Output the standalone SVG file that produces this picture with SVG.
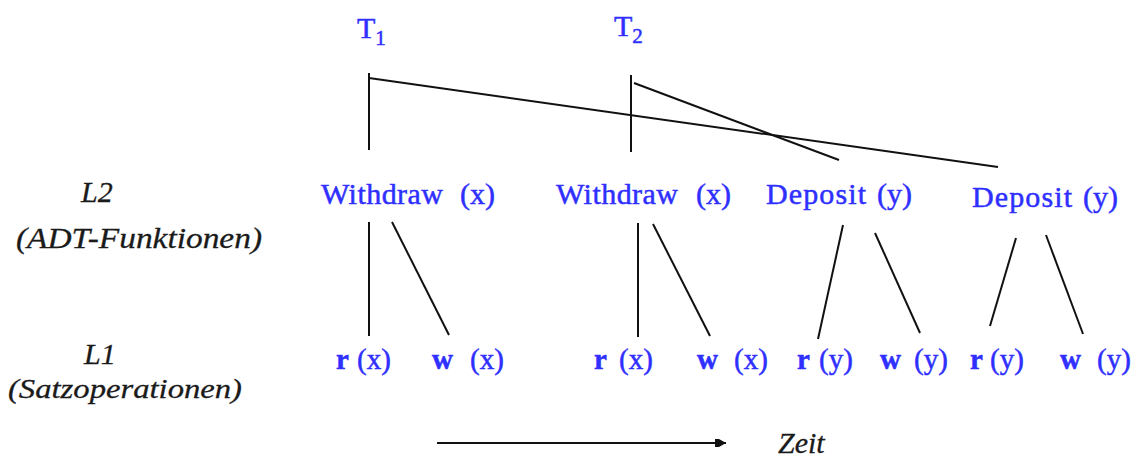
<svg xmlns="http://www.w3.org/2000/svg" width="1134" height="458" viewBox="0 0 1134 458">
<style>
.t{font-family:"Liberation Serif","Times New Roman",serif;fill:#2f2fff;stroke:#2f2fff;stroke-width:0.5;}
.big{font-size:30px;}
.sub{font-size:21px;}
.op{font-size:29px;}
.b{font-weight:bold;}
.lab{font-family:"Liberation Serif","Times New Roman",serif;font-style:italic;fill:#1a1a1a;stroke:#1a1a1a;stroke-width:0.3;font-size:30px;}
.sm{font-size:28px;}
.ln{stroke:#111;stroke-width:2;fill:none;}
</style>
<defs>
<marker id="ah" markerWidth="12" markerHeight="10" refX="11" refY="5" orient="auto" markerUnits="userSpaceOnUse">
<path d="M0,1 L4,1 L11,5 L4,9 L0,9 Z" fill="#111"/>
</marker>
</defs>
<rect width="1134" height="458" fill="#fff"/>
<g id="connectors">
<line class="ln" x1="369" y1="73" x2="369" y2="150"/>
<line class="ln" x1="369" y1="78" x2="998" y2="167"/>
<line class="ln" x1="631" y1="75" x2="631" y2="152"/>
<line class="ln" x1="634" y1="83" x2="839" y2="160"/>
<line class="ln" x1="369" y1="222" x2="369" y2="336"/>
<line class="ln" x1="392" y1="222" x2="449" y2="335"/>
<line class="ln" x1="638" y1="223" x2="638" y2="337"/>
<line class="ln" x1="653" y1="224" x2="710" y2="336"/>
<line class="ln" x1="843" y1="225" x2="818" y2="339"/>
<line class="ln" x1="875" y1="233" x2="920" y2="333"/>
<line class="ln" x1="1016" y1="238" x2="990" y2="326"/>
<line class="ln" x1="1046" y1="235" x2="1083" y2="334"/>
<line class="ln" x1="437" y1="443" x2="726" y2="443" marker-end="url(#ah)"/>
</g>
<g id="T1"><text class="t big" x="357" y="38">T<tspan class="sub" dy="7">1</tspan></text></g>
<g id="T2"><text class="t big" x="614" y="36">T<tspan class="sub" dy="7">2</tspan></text></g>
<g id="L2"><text class="lab" x="81" y="202">L2</text><text class="lab" x="16" y="248" textLength="246" lengthAdjust="spacingAndGlyphs">(ADT-Funktionen)</text></g>
<g id="L1"><text class="lab" x="84" y="364">L1</text><text class="lab sm" x="8" y="398" textLength="234" lengthAdjust="spacingAndGlyphs">(Satzoperationen)</text></g>
<g id="Zeit"><text class="lab" x="778" y="453">Zeit</text></g>
<g id="withdraw1"><text class="t big" x="321" y="204" textLength="122">Withdraw</text><text class="t big" x="460" y="204">(x)</text></g>
<g id="withdraw2"><text class="t big" x="556" y="204" textLength="122">Withdraw</text><text class="t big" x="696" y="204">(x)</text></g>
<g id="deposit1"><text class="t big" x="766" y="204" textLength="100">Deposit</text><text class="t big" x="877" y="204">(y)</text></g>
<g id="deposit2"><text class="t big" x="972" y="207" textLength="100">Deposit</text><text class="t big" x="1083" y="207">(y)</text></g>
<g id="r1"><text class="t op" y="369"><tspan class="b" x="336">r</tspan><tspan x="357">(x)</tspan></text></g>
<g id="w1"><text class="t op" y="369"><tspan class="b" x="432">w</tspan><tspan x="470">(x)</tspan></text></g>
<g id="r2"><text class="t op" y="369"><tspan class="b" x="594">r</tspan><tspan x="619">(x)</tspan></text></g>
<g id="w2"><text class="t op" y="369"><tspan class="b" x="697">w</tspan><tspan x="734">(x)</tspan></text></g>
<g id="r3"><text class="t op" y="369"><tspan class="b" x="797">r</tspan><tspan x="819">(y)</tspan></text></g>
<g id="w3"><text class="t op" y="369"><tspan class="b" x="880">w</tspan><tspan x="914">(y)</tspan></text></g>
<g id="r4"><text class="t op" y="369"><tspan class="b" x="970">r</tspan><tspan x="990">(y)</tspan></text></g>
<g id="w4"><text class="t op" y="369"><tspan class="b" x="1060">w</tspan><tspan x="1097">(y)</tspan></text></g>
</svg>
